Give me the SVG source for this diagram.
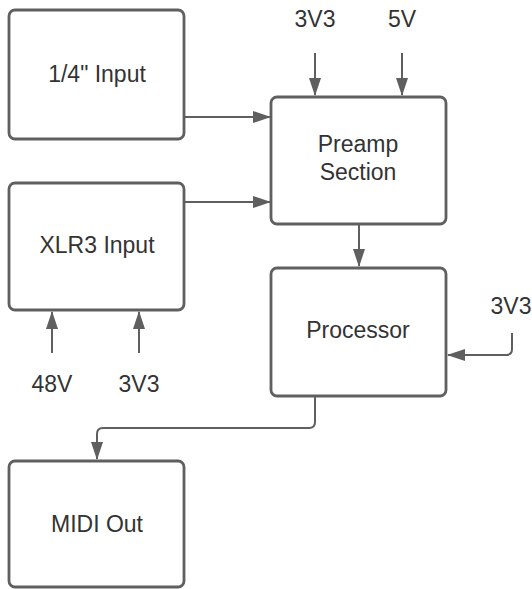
<svg xmlns="http://www.w3.org/2000/svg" width="532" height="589" viewBox="0 0 532 589">
<style>
.box{fill:#fff;stroke:#5f5f5f;stroke-width:2.8}
.lbl{font-family:"Liberation Sans",Arial,sans-serif;font-size:23px;fill:#333;text-anchor:middle}
.con{fill:none;stroke:#5f5f5f;stroke-width:2;marker-end:url(#ah)}
</style>
<defs>
<marker id="ah" markerUnits="userSpaceOnUse" markerWidth="18" markerHeight="14" refX="17" refY="7" orient="auto">
<path d="M0,1 L18,7 L0,13 z" fill="#5f5f5f"/>
</marker>
</defs>
<rect width="532" height="589" fill="#fff"/>
<g id="quarter-input"><rect class="box" x="9" y="10" width="175" height="129" rx="6"/><text class="lbl" x="97" y="82">1/4" Input</text></g>
<g id="xlr-input"><rect class="box" x="9" y="183" width="175" height="127" rx="6"/><text class="lbl" x="97" y="253">XLR3 Input</text></g>
<g id="preamp"><rect class="box" x="271" y="97" width="175" height="127" rx="6"/><text class="lbl" x="358" y="152">Preamp</text><text class="lbl" x="358" y="180">Section</text></g>
<g id="processor"><rect class="box" x="271" y="268" width="175" height="128" rx="6"/><text class="lbl" x="358" y="338">Processor</text></g>
<g id="midi-out"><rect class="box" x="9" y="461" width="175" height="126" rx="6"/><text class="lbl" x="97" y="532">MIDI Out</text></g>
<g id="labels">
<text class="lbl" x="315" y="27">3V3</text>
<text class="lbl" x="402" y="27">5V</text>
<text class="lbl" x="52" y="392">48V</text>
<text class="lbl" x="139" y="392">3V3</text>
<text class="lbl" x="511" y="314">3V3</text>
</g>
<g id="connectors">
<path class="con" d="M185,117 H270"/>
<path class="con" d="M185,202 H270"/>
<path class="con" d="M315,53 V95"/>
<path class="con" d="M402,53 V95"/>
<path class="con" d="M52,353 V312"/>
<path class="con" d="M139,353 V312"/>
<path class="con" d="M359,225 V266"/>
<path class="con" d="M512,333 V349 Q512,355 506,355 H448"/>
<path class="con" d="M315,397 V422 Q315,428 309,428 H103 Q97,428 97,434 V459"/>
</g>
</svg>
